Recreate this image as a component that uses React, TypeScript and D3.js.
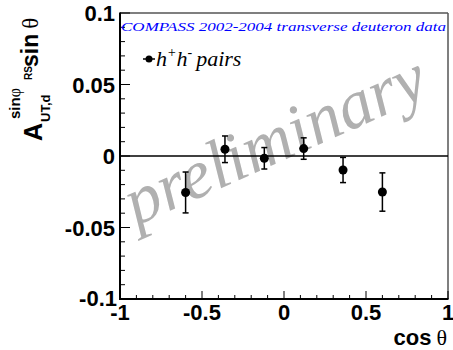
import React from "react";
import * as d3 from "d3";

// Asymmetry A_UT,d^{sin phi_RS} sin(theta) vs cos(theta), h+h- pairs
const cosTheta = [-0.6, -0.36, -0.12, 0.12, 0.36, 0.6];
const asym = [-0.0255, 0.0047, -0.0016, 0.0052, -0.0098, -0.0252];
const asymErr = [0.0143, 0.0093, 0.0075, 0.0075, 0.0088, 0.0134];

const xTicks = [-1, -0.5, 0, 0.5, 1];
const xTickLabels = ["-1", "-0.5", "0", "0.5", "1"];
const yTicks = [-0.1, -0.05, 0, 0.05, 0.1];
const yTickLabels = ["-0.1", "-0.05", "0", "0.05", "0.1"];

const W = 453;
const H = 350;
const L = 120;
const R = 448;
const T = 13;
const B = 299;

const sans = "'Liberation Sans', Arial, Helvetica, sans-serif";
const serif = "'Liberation Serif', 'Times New Roman', serif";

export default function App() {
  const x = d3.scaleLinear().domain([-1, 1]).range([L, R]);
  const y = d3.scaleLinear().domain([-0.1, 0.1]).range([B, T]);

  const xMinor = d3.range(-1, 1.0001, 0.1).map((v) => +v.toFixed(2));
  const yMinor = d3.range(-0.1, 0.10001, 0.01).map((v) => +v.toFixed(3));

  return (
    <svg
      width={W}
      height={H}
      style={{ position: "absolute", left: 0, top: 0, background: "#fff" }}
    >
      <rect x={0} y={0} width={W} height={H} fill="#fff" />

      {/* watermark */}
      <text
        transform={`translate(136,226) rotate(-24)`}
        fontFamily={serif}
        fontStyle="italic"
        fontSize={69}
        fill="#b0b0b0"
      >
        preliminary
      </text>

      {/* frame */}
      <line x1={L} y1={T} x2={R} y2={T} stroke="#555" strokeWidth={1.5} />
      <line x1={R} y1={T} x2={R} y2={B} stroke="#555" strokeWidth={1.5} />
      <line x1={L} y1={T - 0.5} x2={L} y2={B + 1} stroke="#000" strokeWidth={2} />
      <line x1={L - 1} y1={B} x2={R + 0.5} y2={B} stroke="#000" strokeWidth={2} />

      {/* zero line */}
      <line x1={L} y1={y(0)} x2={R} y2={y(0)} stroke="#000" strokeWidth={1.5} />

      {/* x ticks */}
      {xMinor.map((v, i) => {
        const major = xTicks.some((t) => Math.abs(t - v) < 1e-6);
        return (
          <line
            key={"xt" + i}
            x1={x(v)}
            x2={x(v)}
            y1={B}
            y2={B - (major ? 8 : 4)}
            stroke="#000"
            strokeWidth={1}
          />
        );
      })}
      {/* y ticks */}
      {yMinor.map((v, i) => {
        const major = yTicks.some((t) => Math.abs(t - v) < 1e-6);
        return (
          <line
            key={"yt" + i}
            x1={L}
            x2={L + (major ? 10 : 5)}
            y1={y(v)}
            y2={y(v)}
            stroke="#000"
            strokeWidth={1}
          />
        );
      })}

      {/* tick labels */}
      {xTicks.map((v, i) => (
        <text
          key={"xl" + i}
          x={x(v)}
          y={320}
          textAnchor="middle"
          fontFamily={sans}
          fontWeight="bold"
          fontSize={22}
          fill="#000"
        >
          {xTickLabels[i]}
        </text>
      ))}
      {yTicks.map((v, i) => (
        <text
          key={"yl" + i}
          x={i === 0 ? 117 : 115}
          y={y(v) + (i === 0 ? 7 : 8)}
          textAnchor="end"
          fontFamily={sans}
          fontWeight="bold"
          fontSize={22}
          fill="#000"
        >
          {yTickLabels[i]}
        </text>
      ))}

      {/* x axis title */}
      <text
        x={447}
        y={345}
        textAnchor="end"
        fontFamily={sans}
        fontWeight="bold"
        fontSize={22}
        fill="#000"
      >
        cos
        <tspan fontWeight="normal" fontFamily={serif} dx={5}>
          θ
        </tspan>
      </text>

      {/* y axis title */}
      <g transform="rotate(-90)" fontFamily={sans} fontWeight="bold" fill="#000">
        <text x={-141} y={42} fontSize={25}>
          A
        </text>
        <text x={-122} y={50} fontSize={13}>
          UT,d
        </text>
        <text x={-119} y={20} fontSize={15}>
          sin
          <tspan fontWeight="normal" fontFamily={serif} fontSize={16}>
            φ
          </tspan>
        </text>
        <text x={-80} y={32} fontSize={10}>
          RS
        </text>
        <text x={-67} y={38} fontSize={23}>
          sin
          <tspan fontWeight="normal" fontFamily={serif} dx={5}>
            θ
          </tspan>
        </text>
      </g>

      {/* header */}
      <text
        x={121}
        y={31}
        fontFamily={serif}
        fontStyle="italic"
        fontSize={13.5}
        fill="#0000ff"
        textLength={325}
        lengthAdjust="spacingAndGlyphs"
      >
        COMPASS 2002-2004 transverse deuteron data
      </text>

      {/* legend */}
      <line x1={143} x2={155} y1={59} y2={59} stroke="#000" strokeWidth={1.5} />
      <circle cx={149} cy={59} r={3.5} fill="#000" />
      <text x={156} y={66} fontFamily={serif} fontStyle="italic" fontSize={22} fill="#000">
        h<tspan dy={-9} fontSize={14}>+</tspan>
        <tspan dy={9}>h</tspan>
        <tspan dy={-9} fontSize={14}>-</tspan>
        <tspan dy={9} dx={4}>pairs</tspan>
      </text>

      {/* data points */}
      {cosTheta.map((c, i) => {
        const cx = x(c);
        const yt = y(asym[i] + asymErr[i]);
        const yb = y(asym[i] - asymErr[i]);
        return (
          <g key={"p" + i} stroke="#000" strokeWidth={1.5}>
            <line x1={cx} x2={cx} y1={yt} y2={yb} />
            <line x1={cx - 3} x2={cx + 3} y1={yt} y2={yt} />
            <line x1={cx - 3} x2={cx + 3} y1={yb} y2={yb} />
            <circle cx={cx} cy={y(asym[i])} r={4.5} fill="#000" stroke="none" />
          </g>
        );
      })}
    </svg>
  );
}
